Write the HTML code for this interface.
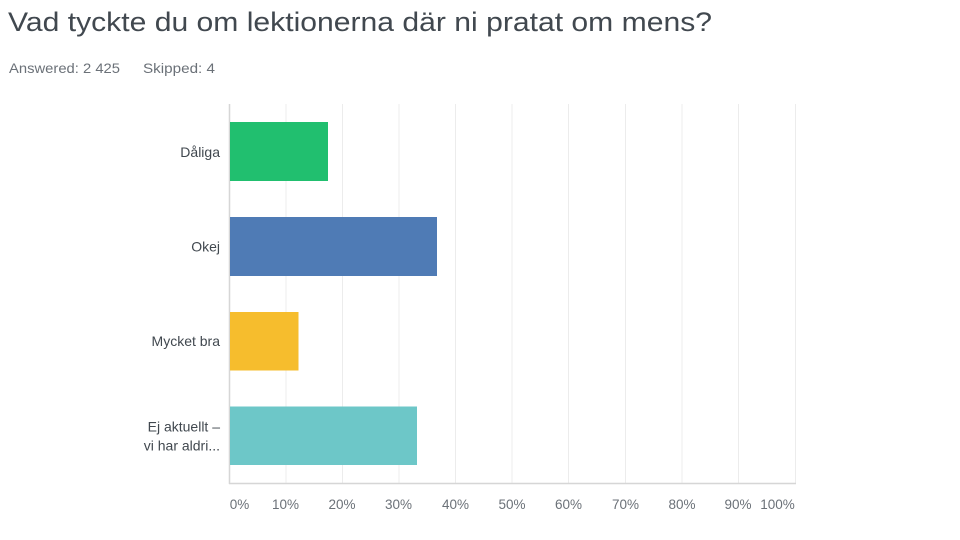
<!DOCTYPE html>
<html><head><meta charset="utf-8"><style>
html,body{margin:0;padding:0;background:#fff;}
svg{display:block;font-family:"Liberation Sans",sans-serif;}
</style></head><body>
<svg width="960" height="540" viewBox="0 0 960 540" xmlns="http://www.w3.org/2000/svg">
<rect width="960" height="540" fill="#fff"/>
<text x="8" y="31" font-size="27" fill="#41484f" textLength="704" lengthAdjust="spacingAndGlyphs">Vad tyckte du om lektionerna där ni pratat om mens?</text>
<text x="9" y="73" font-size="14" fill="#6b7178" textLength="111" lengthAdjust="spacingAndGlyphs">Answered: 2 425</text>
<text x="143" y="73" font-size="14" fill="#6b7178" textLength="72" lengthAdjust="spacingAndGlyphs">Skipped: 4</text>
<g stroke="#ececec" stroke-width="1">
<line x1="286" y1="104" x2="286" y2="483"/>
<line x1="342.5" y1="104" x2="342.5" y2="483"/>
<line x1="399" y1="104" x2="399" y2="483"/>
<line x1="455.5" y1="104" x2="455.5" y2="483"/>
<line x1="512" y1="104" x2="512" y2="483"/>
<line x1="568.5" y1="104" x2="568.5" y2="483"/>
<line x1="625.5" y1="104" x2="625.5" y2="483"/>
<line x1="682" y1="104" x2="682" y2="483"/>
<line x1="738.5" y1="104" x2="738.5" y2="483"/>
<line x1="795.5" y1="104" x2="795.5" y2="483"/>
</g>
<line x1="229.5" y1="104" x2="229.5" y2="484" stroke="#d6d6d6" stroke-width="1.5"/>
<line x1="229" y1="483.5" x2="796" y2="483.5" stroke="#d6d6d6" stroke-width="1.5"/>
<rect x="230" y="122" width="98" height="59" fill="#21bf6f"/>
<rect x="230" y="217" width="207" height="59" fill="#4f7bb5"/>
<rect x="230" y="312" width="68.5" height="58.5" fill="#f6bd2d"/>
<rect x="230" y="406.5" width="187" height="58.5" fill="#6dc7c8"/>
<g font-size="14" fill="#41484f" text-anchor="end">
<text x="220" y="157">Dåliga</text>
<text x="220" y="251.5">Okej</text>
<text x="220" y="346">Mycket bra</text>
<text x="220" y="431.5">Ej aktuellt –</text>
<text x="220" y="450.5">vi har aldri...</text>
</g>
<g font-size="13.5" fill="#6b7178" text-anchor="middle">
<text x="239.5" y="509">0%</text>
<text x="285.5" y="509">10%</text>
<text x="342" y="509">20%</text>
<text x="398.5" y="509">30%</text>
<text x="455.5" y="509">40%</text>
<text x="512" y="509">50%</text>
<text x="568.5" y="509">60%</text>
<text x="625.5" y="509">70%</text>
<text x="682" y="509">80%</text>
<text x="738" y="509">90%</text>
<text x="777.5" y="509">100%</text>
</g>
</svg>
</body></html>
